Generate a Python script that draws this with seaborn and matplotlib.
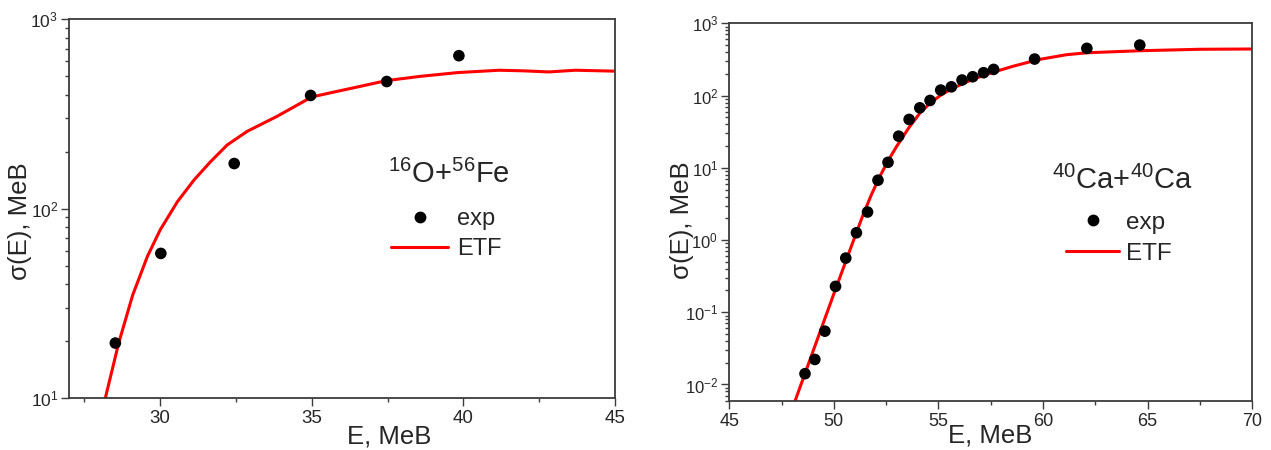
import numpy as np
import pandas as pd
import matplotlib
matplotlib.use("Agg")
import matplotlib.pyplot as plt
import seaborn as sns
from matplotlib.ticker import MultipleLocator, LogLocator, NullFormatter
from matplotlib.lines import Line2D

# 16O + 56Fe: measured cross sections and ETF calculation
fe_exp_E = [28.52, 30.02, 32.44, 34.96, 37.47, 39.85]
fe_exp_sigma = [19.5, 58, 173, 396, 469, 642]
fe_etf_E = [28.19, 28.63, 29.09, 29.58, 30.0, 30.57, 31.12, 31.66, 32.21, 32.87,
            33.85, 35.0, 35.71, 36.59, 37.45, 38.6, 39.82, 41.18, 42.0, 42.82,
            43.69, 45.0]
fe_etf_sigma = [10, 19.5, 34.9, 56.1, 77.3, 109, 142, 177, 217, 256,
                307, 389, 412, 442, 474, 500, 523, 538, 534, 527,
                538, 532]

# 40Ca + 40Ca: measured cross sections and ETF calculation
ca_exp_E = [48.62, 49.09, 49.57, 50.08, 50.57, 51.08, 51.61, 52.11, 52.59, 53.10,
            53.60, 54.11, 54.60, 55.11, 55.62, 56.13, 56.64, 57.16, 57.64, 59.60,
            62.10, 64.63]
ca_exp_sigma = [0.0141, 0.0222, 0.0547, 0.228, 0.562, 1.26, 2.44, 6.73, 11.9, 27.4,
                46.7, 67.6, 85.5, 119, 132, 164, 182, 207, 230, 320,
                450, 500]
ca_etf_E = [48.14, 49.0, 50.0, 51.0, 51.4, 51.8, 52.2, 52.6, 52.99, 53.6,
            54.11, 54.6, 55.11, 55.62, 56.13, 56.64, 57.16, 57.64, 58.56, 59.36,
            59.6, 61.11, 62.1, 64.63, 67.48, 70.0]
ca_etf_sigma = [0.00586, 0.0286, 0.18, 1.10, 2.24, 4.27, 7.6, 12.6, 19.5, 36.3,
                56.9, 78.5, 101, 123, 144.5, 167, 190, 211, 254, 292,
                308, 367, 391, 417, 437, 441]

x_label = "E, MeB"
y_label = "σ(E), MeB"
legend_labels = ["exp", "ETF"]
fe_title = r"$^{16}$O+$^{56}$Fe"
ca_title = r"$^{40}$Ca+$^{40}$Ca"

sns.set_style("ticks")
plt.rcParams["font.family"] = ["Liberation Sans", "DejaVu Sans"]
plt.rcParams["mathtext.fontset"] = "custom"
plt.rcParams["mathtext.rm"] = "Liberation Sans"
plt.rcParams["mathtext.it"] = "Liberation Sans:italic"
plt.rcParams["mathtext.bf"] = "Liberation Sans:bold"
plt.rcParams["mathtext.default"] = "regular"

fig = plt.figure(figsize=(12.71, 4.5), dpi=100)
ax1 = fig.add_axes([0.0545, 0.1156, 0.4294, 0.8416])
ax2 = fig.add_axes([0.5738, 0.1100, 0.4113, 0.8382])

spine_color = "#3c3c3c"


def style_axes(ax, xlim, ylim, xtick_size, ytick_size):
    ax.set_yscale("log")
    ax.set_xlim(*xlim)
    ax.set_ylim(*ylim)
    ax.xaxis.set_major_locator(MultipleLocator(5))
    ax.xaxis.set_minor_locator(MultipleLocator(2.5))
    ax.yaxis.set_major_locator(LogLocator(base=10, numticks=20))
    ax.yaxis.set_minor_locator(LogLocator(base=10, subs=np.arange(2, 10) * 1.0, numticks=50))
    ax.yaxis.set_minor_formatter(NullFormatter())
    for s in ax.spines.values():
        s.set_color(spine_color)
        s.set_linewidth(1.3)
        s.set_visible(True)
    ax.tick_params(which="both", direction="out", color=spine_color, width=1,
                   top=False, right=False)
    ax.tick_params(which="major", length=6)
    ax.tick_params(which="minor", length=3)
    ax.tick_params(axis="x", which="major", labelsize=xtick_size, pad=3)
    ax.tick_params(axis="y", which="major", labelsize=ytick_size, pad=2)


def draw_panel(ax, exp_E, exp_s, etf_E, etf_s):
    df_etf = pd.DataFrame({"E": etf_E, "sigma": etf_s})
    df_exp = pd.DataFrame({"E": exp_E, "sigma": exp_s})
    sns.lineplot(data=df_etf, x="E", y="sigma", ax=ax, color="#ff0000", lw=2.2,
                 sort=False, estimator=None, zorder=2)
    sns.scatterplot(data=df_exp, x="E", y="sigma", ax=ax, color="black", s=70,
                    edgecolor="none", zorder=3)


style_axes(ax1, (27, 45), (10, 1000), 13.5, 12.5)
style_axes(ax2, (45, 70), (0.006, 1000), 13, 12)
draw_panel(ax1, fe_exp_E, fe_exp_sigma, fe_etf_E, fe_etf_sigma)
draw_panel(ax2, ca_exp_E, ca_exp_sigma, ca_etf_E, ca_etf_sigma)

for ax in (ax1, ax2):
    ax.set_xlabel(x_label, fontsize=18.5)
    ax.set_ylabel(y_label, fontsize=18.5)

ax1.xaxis.set_label_coords(0.586, -0.069)
ax1.yaxis.set_label_coords(-0.069, 0.467)
ax2.xaxis.set_label_coords(0.5, -0.062)
ax2.yaxis.set_label_coords(-0.0675, 0.4785)

ax1.text(0.584, 0.568, fe_title, transform=ax1.transAxes, fontsize=21,
         ha="left", va="baseline")
ax2.text(0.617, 0.56, ca_title, transform=ax2.transAxes, fontsize=21,
         ha="left", va="baseline")


def add_legend(ax, anchor, fs, hlen, hpad, spacing):
    handles = [
        Line2D([], [], marker="o", ls="none", color="black", markersize=8.5,
               markeredgewidth=0, label=legend_labels[0]),
        Line2D([], [], color="#ff0000", lw=2.2, label=legend_labels[1]),
    ]
    ax.legend(handles=handles, loc="center left", bbox_to_anchor=anchor,
              frameon=False, fontsize=fs, handlelength=hlen, handletextpad=hpad,
              labelspacing=spacing, borderpad=0, borderaxespad=0, numpoints=1)


add_legend(ax1, (0.589, 0.4325), 17, 2.44, 0.36, 0.36)
add_legend(ax2, (0.644, 0.43), 17.5, 2.2, 0.27, 0.38)

fig.savefig("out.png", dpi=100)
